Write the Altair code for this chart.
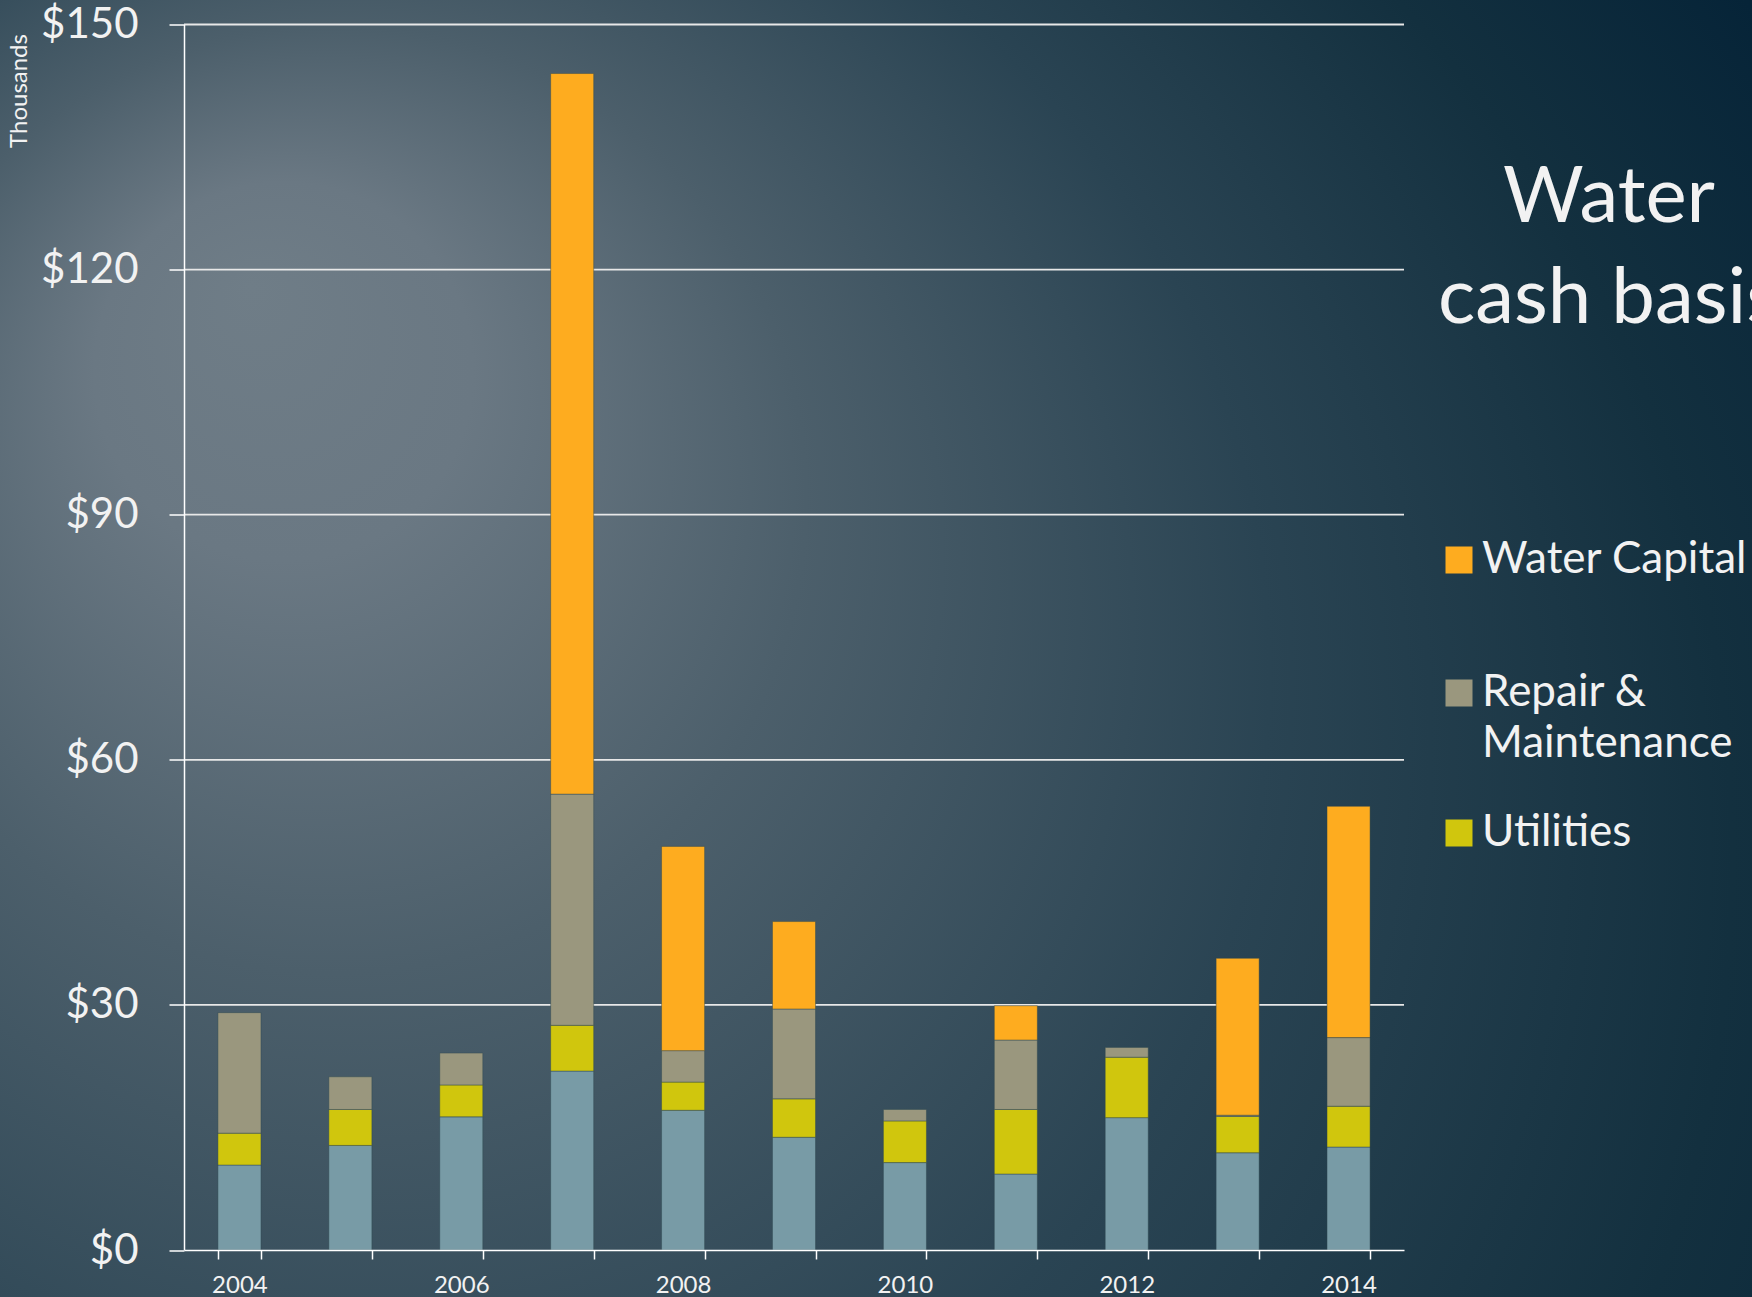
import altair as alt
import pandas as pd

YEARS = ["2004", "2005", "2006", "2007", "2008", "2009", "2010", "2011", "2012", "2013", "2014"]
OPERATIONS = [10.4, 12.8, 16.3, 21.9, 17.1, 13.8, 10.7, 9.3, 16.2, 11.9, 12.6]
UTILITIES = [3.9, 4.4, 3.9, 5.6, 3.45, 4.7, 5.1, 7.9, 7.4, 4.45, 5.0]
REPAIR = [14.75, 4.0, 3.9, 28.3, 3.85, 11.0, 1.4, 8.5, 1.2, 0.15, 8.4]
CAPITAL = [0, 0, 0, 88.2, 25.0, 10.7, 0, 4.2, 0, 19.2, 28.3]

SERIES = ["Operations", "Utilities", "Repair & Maintenance", "Water Capital"]
COLORS = ["#789ba6", "#d0c60d", "#9a977e", "#feac1f"]
LEGEND_ENTRIES = ["Water Capital", "Repair & Maintenance", "Utilities"]
Y_TICKS = [0, 30, 60, 90, 120, 150]
TITLE_LINES = ["Water", "cash basis"]

W, H = 1220, 1225.5
PAD = {"left": 184, "top": 24.5, "right": 348, "bottom": 47}
FONT = "Lato"
TXT = "#f2f2f2"

rows = []
for series, vals in zip(SERIES, [OPERATIONS, UTILITIES, REPAIR, CAPITAL]):
    for y, v in zip(YEARS, vals):
        if v > 0:
            rows.append({"year": y, "series": series, "value": v, "order": SERIES.index(series)})
df = pd.DataFrame(rows)

gradient = {
    "gradient": "radial",
    "x1": 0.143, "y1": 0.293, "r1": 0,
    "x2": 0.3, "y2": 0.7, "r2": 0.9,
    "stops": [
        {"offset": 0, "color": "#6f7d87"},
        {"offset": 0.12, "color": "#6a7883"},
        {"offset": 0.3, "color": "#4c5f6b"},
        {"offset": 0.55, "color": "#2a4453"},
        {"offset": 0.8, "color": "#13303f"},
        {"offset": 1, "color": "#062438"},
    ],
}

bg = alt.Chart(pd.DataFrame({"k": [0]})).mark_rect(fill=gradient).encode(
    x=alt.value(-PAD["left"]), x2=alt.value(W + PAD["right"]),
    y=alt.value(-PAD["top"]), y2=alt.value(H + PAD["bottom"]),
)

y_scale = alt.Scale(domain=[0, 150], nice=False, zero=True)
y_axis = alt.Axis(
    values=Y_TICKS, labelExpr="'$' + datum.value", grid=False,
    labelFont=FONT, labelFontSize=42, labelColor=TXT, labelPadding=31,
    tickSize=15, tickColor="#ffffff", tickWidth=1.5,
    domainColor="#ffffff", domainWidth=1.5, zindex=1,
    title="Thousands", titleFont=FONT, titleFontSize=24, titleFontWeight="normal",
    titleColor=TXT, titleAngle=270, titleX=-165, titleY=66,
    titleAlign="center", titleBaseline="middle",
)

grid = alt.Chart(pd.DataFrame({"v": Y_TICKS[1:]})).mark_rule(
    color="#e8e8e8", strokeWidth=1.8
).encode(
    y=alt.Y("v:Q", scale=y_scale, axis=y_axis),
    x=alt.value(0), x2=alt.value(W),
)

legend = alt.Legend(
    values=LEGEND_ENTRIES, orient="none", legendX=1253, legendY=469,
    title=None, symbolType="square", symbolSize=729, symbolStrokeWidth=0,
    labelFont=FONT, labelFontSize=44, labelColor=TXT, labelOffset=1,
    labelLimit=400, clipHeight=133, rowPadding=0, padding=0,
    labelExpr="datum.label == 'Repair & Maintenance' ? ['Repair &', 'Maintenance'] : datum.label",
)

bars = alt.Chart(df).mark_bar(stroke="#2f4650", strokeWidth=1, strokeOpacity=0.45).encode(
    x=alt.X(
        "year:N", sort=YEARS,
        scale=alt.Scale(paddingInner=0.612, paddingOuter=0.306),
        axis=alt.Axis(
            title=None, labelAngle=0,
            labelExpr="toNumber(datum.value) % 2 == 0 ? datum.label : ''",
            labelFont=FONT, labelFontSize=24, labelColor=TXT, labelPadding=14,
            tickBand="extent", tickSize=9, tickColor="#ffffff", tickWidth=1.5,
            domainColor="#ffffff", domainWidth=1.5, zindex=1,
        ),
    ),
    y=alt.Y("value:Q", stack="zero", scale=y_scale, axis=y_axis),
    color=alt.Color("series:N", scale=alt.Scale(domain=SERIES, range=COLORS), legend=legend),
    order=alt.Order("order:Q"),
)

title_layers = [
    alt.Chart(pd.DataFrame({"t": [line]})).mark_text(
        font=FONT, fontSize=78, color=TXT, align="center", baseline="alphabetic"
    ).encode(text="t:N", x=alt.value(1425), y=alt.value(ypos))
    for line, ypos in zip(TITLE_LINES, [197.5, 298.5])
]

chart = alt.layer(bg, grid, bars, *title_layers).properties(
    width=W, height=H,
    autosize=alt.AutoSizeParams(type="none"),
    padding=PAD,
    background="#0b2535",
).configure(
    style={"guide-label": {"lineHeight": 51}},
).configure_view(stroke="transparent")

chart.save("out.html", embed_options={"renderer": "svg", "actions": False})
